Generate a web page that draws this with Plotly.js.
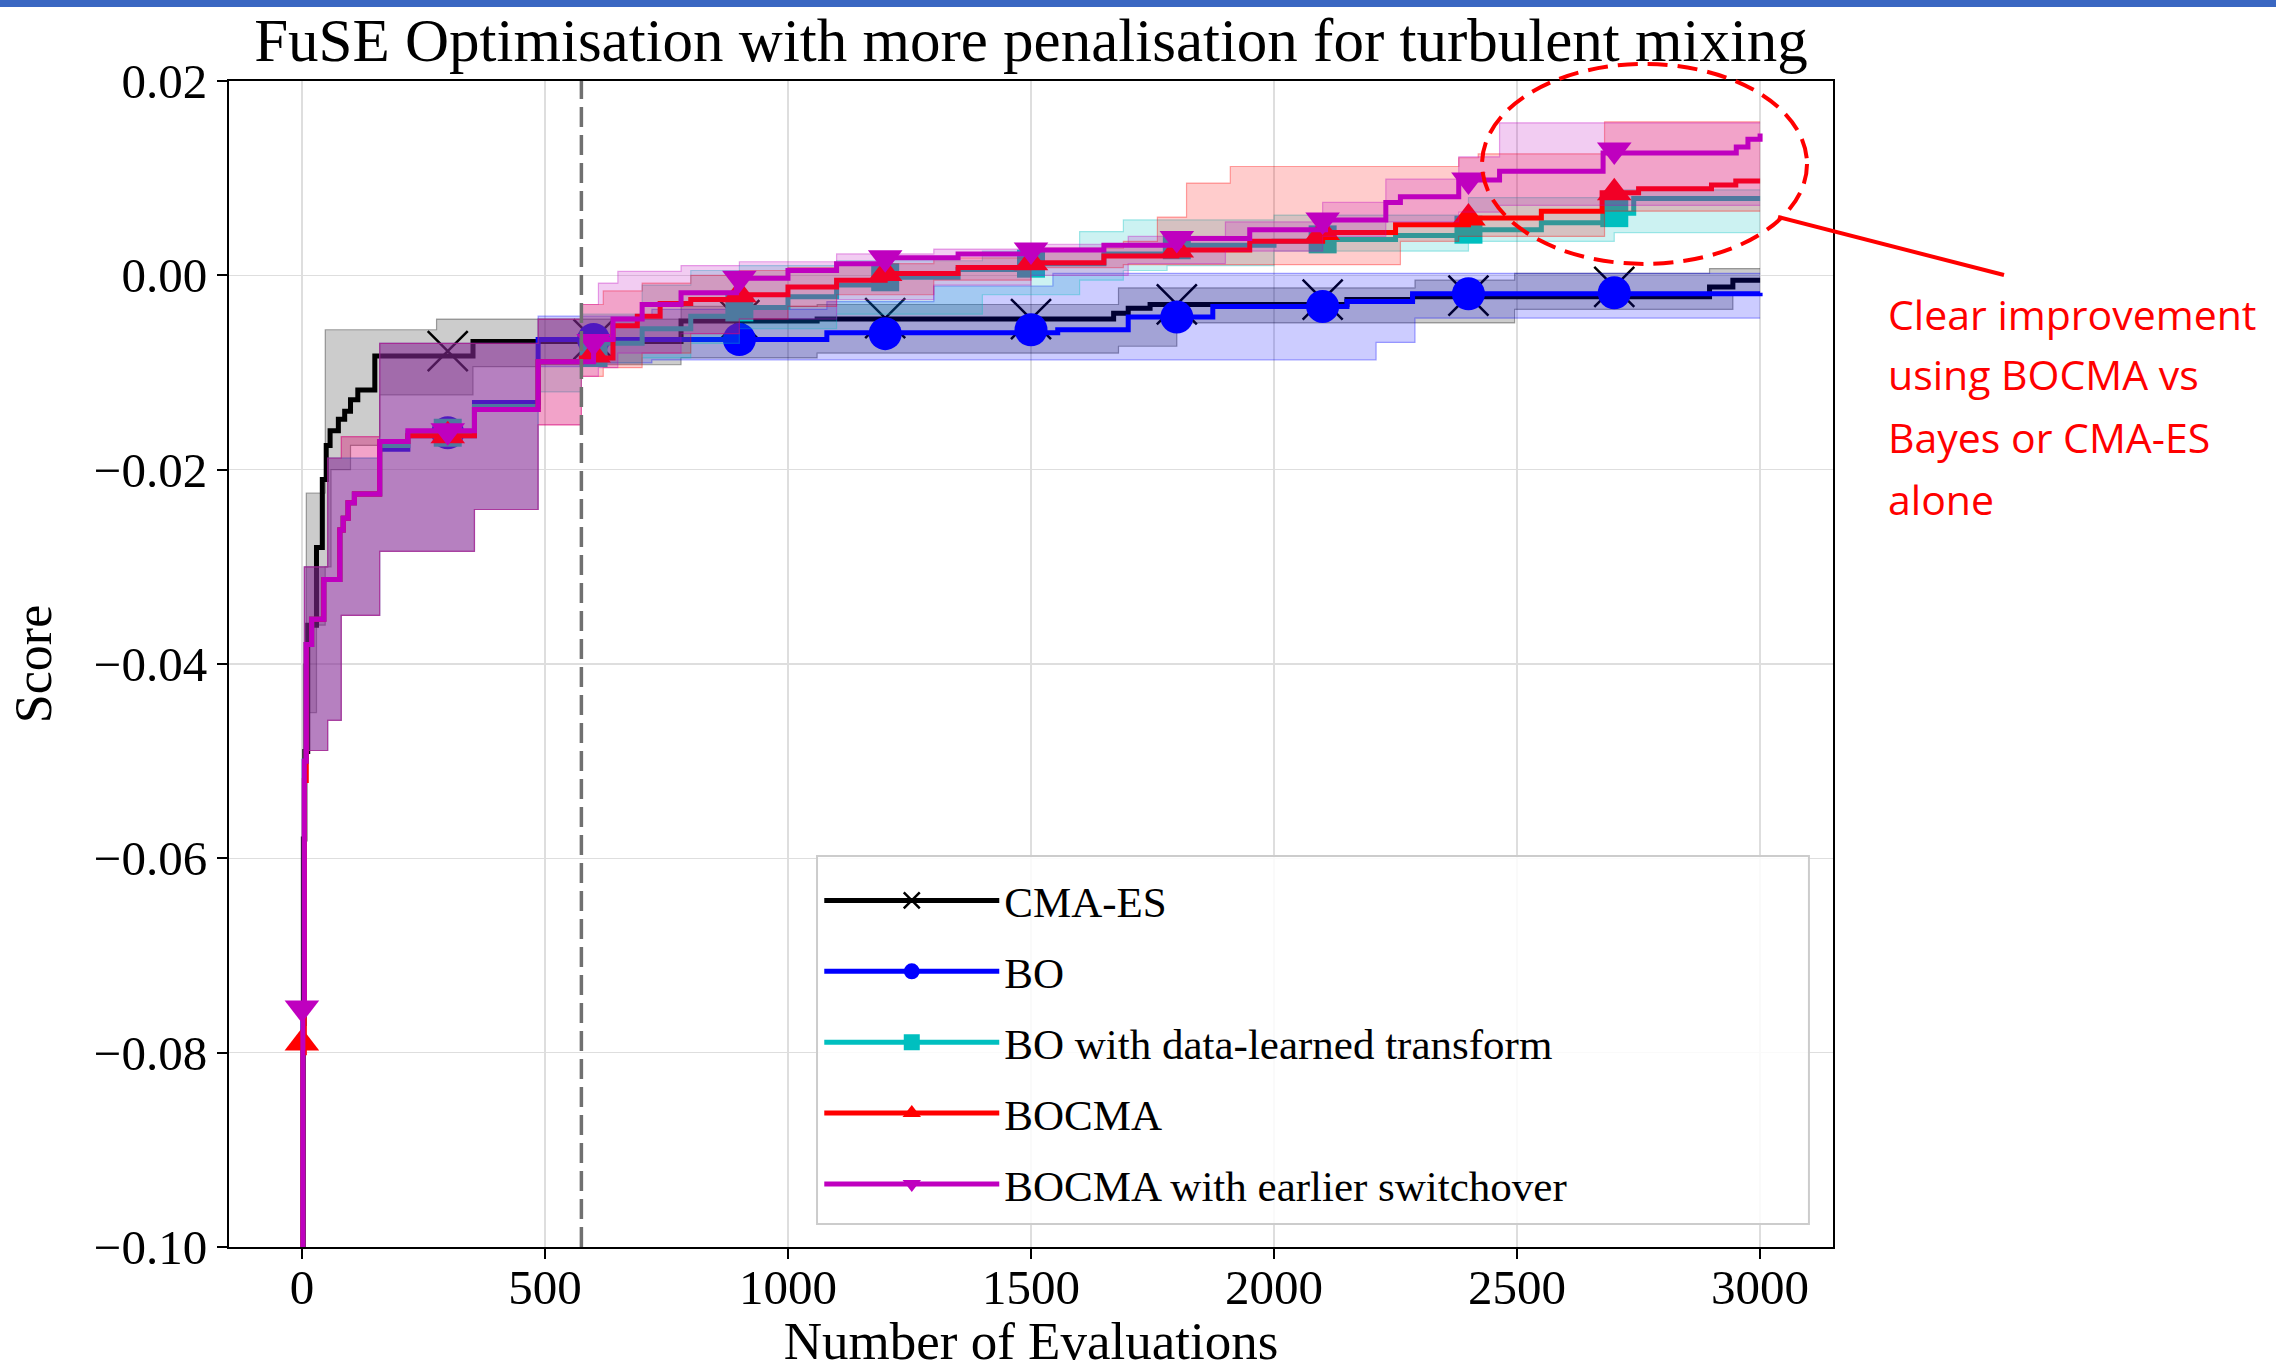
<!DOCTYPE html>
<html>
<head>
<meta charset="utf-8">
<script src="https://cdn.plot.ly/plotly-3.0.1.min.js"></script>
<style>html,body{margin:0;padding:0;background:#fff;}#chart{width:2276px;height:1370px;}</style>
</head>
<body>
<div id="chart"></div>
<script>
// ---------------- data ----------------
const seriesNames = ['CMA-ES', 'BO', 'BO with data-learned transform', 'BOCMA', 'BOCMA with earlier switchover'];
const markerX = [0, 300, 600, 900, 1200, 1500, 1800, 2100, 2400, 2700];
const xTickVals = [0, 500, 1000, 1500, 2000, 2500, 3000];
const yTickVals = [-0.10, -0.08, -0.06, -0.04, -0.02, 0.00, 0.02];
const switchoverX = 575;

// CMA-ES
const cmaX   = [0, 3, 6, 12, 30, 42, 50, 58, 75, 88, 100, 115, 150, 352, 780, 1060, 1670, 1700, 1745, 2150, 2285, 2896, 2944, 3000];
const cmaMed = [-0.118, -0.058, -0.049, -0.036, -0.028, -0.021, -0.0175, -0.016, -0.0148, -0.014, -0.0128, -0.0118, -0.0083, -0.0068, -0.0047, -0.0045, -0.0039, -0.0034, -0.0030, -0.0025, -0.0022, -0.0012, -0.0005, -0.0005];
const cmaBandX = [0, 3, 9, 30, 48, 60, 100, 160, 277, 352, 486, 780, 1060, 1680, 1800, 2290, 2495, 2896, 2944, 3000];
const cmaHi = [-0.060, -0.040, -0.0224, -0.0224, -0.0056, -0.0056, -0.0056, -0.0056, -0.0045, -0.0045, -0.0045, -0.0032, -0.0030, -0.0013, -0.0013, -0.0005, 0.0002, 0.0007, 0.0007, 0.0007];
const cmaLo = [-0.140, -0.068, -0.045, -0.036, -0.030, -0.020, -0.0175, -0.0123, -0.0123, -0.0094, -0.0092, -0.0085, -0.0080, -0.0073, -0.0049, -0.0049, -0.0035, -0.0035, -0.0020, -0.0020];
const cmaMarkY = [-0.118, -0.0078, -0.0066, -0.0046, -0.0044, -0.0045, -0.0030, -0.0025, -0.0021, -0.0012];

// BO
const boX   = [0, 2, 5, 9, 20, 45, 78, 85, 95, 108, 160, 218, 355, 486, 1080, 1555, 1700, 1874, 2150, 2285, 3000];
const boMed = [-0.140, -0.077, -0.050, -0.038, -0.0354, -0.0313, -0.0262, -0.0250, -0.0234, -0.0225, -0.0179, -0.0165, -0.0131, -0.0066, -0.0059, -0.0056, -0.0043, -0.0032, -0.0027, -0.0019, -0.0018];
const boBandX = [0, 5, 53, 81, 160, 355, 486, 575, 720, 1080, 1300, 1545, 2210, 2290, 3000];
const boHi = [-0.070, -0.0300, -0.0188, -0.0188, -0.0070, -0.0070, -0.0042, -0.0042, -0.0035, -0.0027, -0.0011, 0.0002, 0.0002, 0.0002, 0.0002];
const boLo = [-0.140, -0.0489, -0.0458, -0.0350, -0.0284, -0.0241, -0.0094, -0.0090, -0.0087, -0.0087, -0.0087, -0.0087, -0.0069, -0.0044, -0.0044];
const boMarkY = [-0.120, -0.0162, -0.0066, -0.0066, -0.0060, -0.0056, -0.0043, -0.0032, -0.0019, -0.0018];

// BO with data-learned transform
const tfX   = [0, 2, 5, 9, 20, 45, 78, 85, 95, 108, 160, 218, 355, 486, 620, 700, 800, 900, 1000, 1100, 1200, 1350, 1500, 1650, 1800, 2000, 2100, 2250, 2400, 2550, 2700, 2740, 3000];
const tfMed = [-0.140, -0.077, -0.050, -0.038, -0.0354, -0.0313, -0.0262, -0.0250, -0.0234, -0.0225, -0.0175, -0.0162, -0.0135, -0.0089, -0.0070, -0.0055, -0.0042, -0.0033, -0.0022, -0.0010, -0.0002, 0.0006, 0.0012, 0.0022, 0.0031, 0.0035, 0.0037, 0.0041, 0.0047, 0.0054, 0.0064, 0.0079, 0.0079];
const tfBandX = [0, 5, 53, 81, 160, 355, 486, 575, 700, 800, 900, 1100, 1400, 1600, 1690, 1780, 2000, 2400, 2700, 3000];
const tfHi = [-0.070, -0.0300, -0.0188, -0.0188, -0.0070, -0.0070, -0.0045, -0.0040, -0.0010, 0.0005, 0.0010, 0.0015, 0.0025, 0.0045, 0.0057, 0.0057, 0.0062, 0.0080, 0.0088, 0.0088];
const tfLo = [-0.140, -0.0489, -0.0458, -0.0350, -0.0284, -0.0241, -0.0120, -0.0090, -0.0085, -0.0070, -0.0055, -0.0040, -0.0020, -0.0005, 0.0005, 0.0010, 0.0025, 0.0035, 0.0044, 0.0044];
const tfMarkY = [-0.120, -0.0162, -0.0080, -0.0033, -0.0002, 0.0012, 0.0031, 0.0037, 0.0047, 0.0064];

// BOCMA
const bcX   = [0, 2, 5, 9, 20, 45, 78, 85, 95, 108, 160, 218, 355, 486, 575, 640, 690, 737, 800, 900, 1000, 1100, 1200, 1350, 1500, 1650, 1800, 1950, 2100, 2250, 2400, 2550, 2675, 2750, 2900, 2950, 3000];
const bcMed = [-0.140, -0.080, -0.052, -0.038, -0.0354, -0.0313, -0.0262, -0.0250, -0.0234, -0.0225, -0.0171, -0.0165, -0.0138, -0.0089, -0.0085, -0.0052, -0.0042, -0.0029, -0.0025, -0.0020, -0.0012, -0.0005, 0.0002, 0.0008, 0.0013, 0.0020, 0.0026, 0.0035, 0.0044, 0.0052, 0.0059, 0.0066, 0.0085, 0.0089, 0.0093, 0.0097, 0.0097];
const bcBandX = [0, 5, 53, 81, 160, 355, 486, 575, 620, 700, 800, 900, 1000, 1100, 1300, 1500, 1690, 1760, 1820, 1910, 2260, 2380, 2420, 2680, 3000];
const bcHi = [-0.070, -0.0300, -0.0188, -0.0166, -0.0070, -0.0070, -0.0045, -0.0030, -0.0016, -0.0008, 0.0000, 0.0005, 0.0008, 0.0012, 0.0018, 0.0028, 0.0035, 0.0060, 0.0095, 0.0112, 0.0112, 0.0121, 0.0125, 0.0158, 0.0158];
const bcLo = [-0.140, -0.0489, -0.0458, -0.0350, -0.0284, -0.0241, -0.0154, -0.0104, -0.0095, -0.0080, -0.0060, -0.0045, -0.0032, -0.0020, -0.0005, 0.0008, 0.0011, 0.0011, 0.0011, 0.0011, 0.0035, 0.0040, 0.0040, 0.0066, 0.0066];
const bcMarkY = [-0.079, -0.0165, -0.0082, -0.0020, 0.0002, 0.0013, 0.0026, 0.0044, 0.0059, 0.0085];

// BOCMA with earlier switchover
const beX   = [0, 2, 5, 9, 20, 45, 78, 85, 95, 108, 160, 218, 355, 486, 575, 600, 640, 700, 780, 894, 1000, 1100, 1203, 1350, 1505, 1650, 1806, 1950, 2106, 2230, 2260, 2380, 2464, 2677, 2951, 2975, 3000];
const beMed = [-0.140, -0.075, -0.050, -0.038, -0.0354, -0.0313, -0.0262, -0.0250, -0.0234, -0.0225, -0.0171, -0.0160, -0.0138, -0.0089, -0.0089, -0.0066, -0.0045, -0.0030, -0.0018, -0.0003, 0.0005, 0.0012, 0.0018, 0.0022, 0.0026, 0.0031, 0.0038, 0.0047, 0.0057, 0.0075, 0.0081, 0.0098, 0.0107, 0.0126, 0.0132, 0.0140, 0.0146];
const beBandX = [0, 5, 53, 81, 160, 355, 486, 575, 610, 650, 780, 900, 1100, 1300, 1500, 1700, 1900, 2100, 2230, 2380, 2464, 3000];
const beHi = [-0.070, -0.0300, -0.0188, -0.0166, -0.0070, -0.0070, -0.0045, -0.0030, -0.0008, 0.0004, 0.0010, 0.0014, 0.0022, 0.0027, 0.0032, 0.0040, 0.0055, 0.0075, 0.0099, 0.0122, 0.0157, 0.0157];
const beLo = [-0.140, -0.0489, -0.0458, -0.0350, -0.0284, -0.0241, -0.0154, -0.0104, -0.0095, -0.0080, -0.0060, -0.0045, -0.0025, -0.0010, 0.0000, 0.0012, 0.0025, 0.0040, 0.0055, 0.0065, 0.0072, 0.0072];
const beMarkY = [-0.0754, -0.0160, -0.0068, -0.0003, 0.0018, 0.0026, 0.0038, 0.0057, 0.0098, 0.0129];

const noteLines = ['Clear improvement', 'using BOCMA vs', 'Bayes or CMA-ES', 'alone'];

// ---------------- styling ----------------
const SERIF = 'Liberation Serif';
const rgb = {
  k: [0, 0, 0], b: [0, 0, 255], c: [0, 191, 191], r: [255, 0, 0], m: [191, 0, 191]
};
function rgba(c, a) { return 'rgba(' + c[0] + ',' + c[1] + ',' + c[2] + ',' + a + ')'; }

const series = [
  {name: seriesNames[0], c: rgb.k, x: cmaX, med: cmaMed, bx: cmaBandX, hi: cmaHi, lo: cmaLo, my: cmaMarkY,
   marker: {symbol: 'x-thin', size: 40, color: 'black', line: {width: 2.5, color: 'black'}}},
  {name: seriesNames[1], c: rgb.b, x: boX, med: boMed, bx: boBandX, hi: boHi, lo: boLo, my: boMarkY,
   marker: {symbol: 'circle', size: 33, color: 'rgb(0,0,255)', line: {width: 0}}},
  {name: seriesNames[2], c: rgb.c, x: tfX, med: tfMed, bx: tfBandX, hi: tfHi, lo: tfLo, my: tfMarkY,
   marker: {symbol: 'square', size: 28, color: 'rgb(0,191,191)', line: {width: 0}}},
  {name: seriesNames[3], c: rgb.r, x: bcX, med: bcMed, bx: bcBandX, hi: bcHi, lo: bcLo, my: bcMarkY,
   marker: {symbol: 'triangle-up', size: 30, color: 'rgb(255,0,0)', line: {width: 0}}},
  {name: seriesNames[4], c: rgb.m, x: beX, med: beMed, bx: beBandX, hi: beHi, lo: beLo, my: beMarkY,
   marker: {symbol: 'triangle-down', size: 30, color: 'rgb(191,0,191)', line: {width: 0}}}
];

const traces = [];
series.forEach(function (s) {
  traces.push({type: 'scatter', mode: 'lines', x: s.bx, y: s.hi, showlegend: false, hoverinfo: 'skip',
    line: {shape: 'hv', width: 1.2, color: rgba(s.c, 0.35)}});
  traces.push({type: 'scatter', mode: 'lines', x: s.bx, y: s.lo, showlegend: false, hoverinfo: 'skip',
    fill: 'tonexty', fillcolor: rgba(s.c, 0.2),
    line: {shape: 'hv', width: 1.2, color: rgba(s.c, 0.35)}});
  traces.push({type: 'scatter', mode: 'lines', x: s.x, y: s.med, showlegend: false, hoverinfo: 'skip',
    line: {shape: 'hv', width: 5, color: rgba(s.c, 1)}});
  traces.push({type: 'scatter', mode: 'markers', x: markerX, y: s.my, showlegend: false, hoverinfo: 'skip',
    marker: s.marker});
});
series.forEach(function (s, i) {
  traces.push({type: 'scatter', mode: 'lines+markers', x: [null], y: [null], name: s.name,
    legendgroup: 'g' + i, showlegend: true,
    line: {width: 5, color: rgba(s.c, 1)}, marker: s.marker});
});

// plot area in pixels: l=229, r=1833, t=81, b=1247
const annotations = noteLines.map(function (t, i) {
  const ys = [0.8002, 0.7487, 0.6947, 0.6415];
  return {text: t, xref: 'paper', yref: 'paper', x: 1.0330, y: ys[i], xanchor: 'left', yanchor: 'middle',
    showarrow: false, font: {family: 'Open Sans', size: 41, color: 'rgb(255,0,0)'}};
});

const layout = {
  width: 2276, height: 1370,
  margin: {l: 229, r: 443, t: 81, b: 123, pad: 0},
  paper_bgcolor: 'white', plot_bgcolor: 'white',
  font: {family: SERIF, size: 49, color: 'black'},
  title: {text: 'FuSE Optimisation with more penalisation for turbulent mixing',
    font: {family: SERIF, size: 61, color: 'black'},
    x: 0.5, xref: 'paper', xanchor: 'center', y: 0.9708, yref: 'container', yanchor: 'middle'},
  xaxis: {range: [-150, 3150], tickvals: xTickVals, tickformat: 'd',
    ticks: 'outside', ticklen: 10, tickwidth: 2, tickcolor: 'black', ticklabelstandoff: -14,
    showline: true, linecolor: 'black', linewidth: 2, mirror: true,
    showgrid: true, gridcolor: '#dedede', gridwidth: 1.5, zeroline: false,
    tickfont: {family: SERIF, size: 49, color: 'black'},
    title: {text: 'Number of Evaluations', font: {family: SERIF, size: 53, color: 'black'}, standoff: 35}},
  yaxis: {range: [-0.10, 0.02], tickvals: yTickVals, tickformat: '.2f',
    ticks: 'outside', ticklen: 10, tickwidth: 2, tickcolor: 'black',
    showline: true, linecolor: 'black', linewidth: 2, mirror: true,
    showgrid: true, gridcolor: '#dedede', gridwidth: 1.5, zeroline: false,
    tickfont: {family: SERIF, size: 49, color: 'black'},
    title: {text: 'Score', font: {family: SERIF, size: 52, color: 'black'}, standoff: 26}},
  legend: {x: 0.3680, y: 0.3268, xanchor: 'left', yanchor: 'top',
    bgcolor: 'rgba(0,0,0,0)', borderwidth: 0,
    font: {family: SERIF, size: 43, color: 'black'}, itemwidth: 175, tracegroupgap: 12},
  shapes: [
    {type: 'rect', xref: 'paper', yref: 'paper', x0: -0.1428, x1: 1.2762, y0: 1.0635, y1: 1.0700,
      fillcolor: '#3a67c2', line: {width: 0}, layer: 'above'},
    {type: 'line', xref: 'x', yref: 'paper', x0: switchoverX, x1: switchoverX, y0: 0, y1: 1,
      line: {color: 'rgb(112,112,112)', width: 3.5, dash: '20px,8px'}, layer: 'above'},
    {type: 'rect', xref: 'paper', yref: 'paper', x0: 0.3666, x1: 0.9850, y0: 0.0197, y1: 0.3353,
      fillcolor: 'rgba(255,255,255,0.85)', line: {color: '#cccccc', width: 2}, layer: 'above'},
    {type: 'circle', xref: 'paper', yref: 'paper', x0: 0.7812, x1: 0.9838, y0: 0.8431, y1: 1.0146,
      line: {color: 'rgb(255,0,0)', width: 4, dash: '20px,10px'}, layer: 'above'},
    {type: 'line', xref: 'paper', yref: 'paper', x0: 0.9657, y0: 0.8834, x1: 1.1066, y1: 0.8336,
      line: {color: 'rgb(255,0,0)', width: 4}, layer: 'above'}
  ],
  annotations: annotations
};

Plotly.newPlot('chart', traces, layout, {displayModeBar: false, staticPlot: true});
</script>
</body>
</html>
